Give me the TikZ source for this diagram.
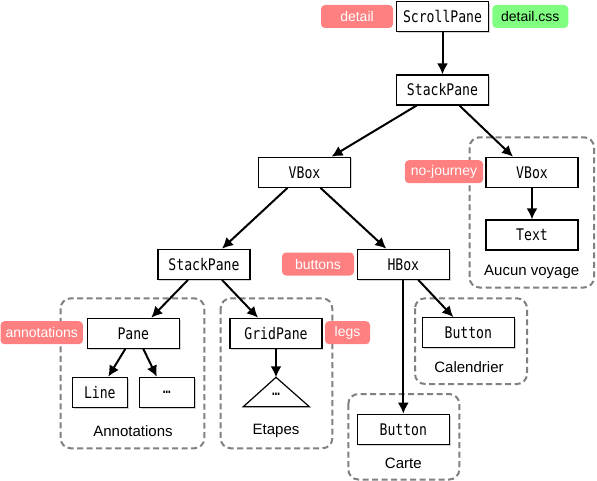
\documentclass[tikz,border=0pt]{standalone}
\usepackage{fontspec}
\setmainfont{Liberation Sans}
\setmonofont[FakeStretch=0.82]{DejaVu Sans Mono}
\usepackage{tikz}
\usetikzlibrary{arrows.meta}
\usetikzlibrary{shadows}
\definecolor{tagred}{HTML}{FF8080}
\definecolor{taggreen}{HTML}{80FF80}
\definecolor{groupgray}{HTML}{808080}
\tikzstyle{cls} = [draw, fill=white, line width=1.2pt, minimum width=92pt, minimum height=30pt, inner sep=0pt, font=\fontsize{16}{18}\selectfont\ttfamily, drop shadow={shadow xshift=1.2pt, shadow yshift=-1.2pt, opacity=0.35}]
\tikzstyle{small} = [cls, minimum width=55pt]
\tikzstyle{tag} = [fill=tagred, rounded corners=4pt, minimum width=72pt, minimum height=23pt, inner xsep=6pt, inner ysep=0pt, text=white, font=\fontsize{14}{16}\selectfont]
\tikzstyle{group} = [draw=groupgray, line width=2pt, dash pattern=on 6pt off 3.5pt, rounded corners=10pt]
\tikzstyle{grouplabel} = [font=\fontsize{15}{17}\selectfont]
\tikzstyle{edge} = [line width=2pt, -{Latex[length=11pt,width=11pt]}]

\begin{document}
\begin{tikzpicture}[x=1pt, y=-1pt]
				%\draw[help lines,step=50] (0,0) grid (597,481);
				\useasboundingbox (0,0) rectangle (597,481);
				\draw [group] (60.7,298.3) rectangle (204.3,448.3);
				\draw [group] (220.7,298.3) rectangle (332.3,448.3);
				\draw [group] (415,298.3) rectangle (527,384);
				\draw [group] (348.3,394) rectangle (459.3,479.5);
				\draw [group] (469.5,137.3) rectangle (594,287.5);

				\node [cls] (scroll) at (442.5, 16.7) {ScrollPane};
				\node [cls] (stack) at (442.5, 90) {StackPane};
				\node [cls] (vbox) at (304.5, 172.3) {VBox};
				\node [cls] (novbox) at (532, 172.3) {VBox};
				\node [cls] (text) at (532, 235) {Text};
				\node [cls] (stack2) at (204, 264.3) {StackPane};
				\node [cls] (hbox) at (403.3, 264.3) {HBox};
				\node [cls] (pane) at (133.3, 333.3) {Pane};
				\node [cls] (grid) at (276, 333.3) {GridPane};
				\node [cls] (calbtn) at (468.3, 332.7) {Button};
				\node [small] (line) at (99.8, 392.3) {Line};
				\node [small] (more) at (166.8, 392.3) {\dots};
				\node [cls] (cartebtn) at (403.3, 429.3) {Button};

				\coordinate (etop) at (276, 377.3);
				\draw [line width=1.2pt] (etop) -- (309.3, 406.7) -- (243.3, 406.7) -- cycle;
				\node [font=\fontsize{16}{18}\selectfont\ttfamily] (etc) at (276, 394) {\dots};

				\node [tag] (tdetail) at (357, 16.5) {detail};
				\node [tag, fill=taggreen, text=black, minimum width=76pt] (tcss) at (530.3, 16.5) {detail.css};
				\node [tag] (tnojourney) at (444, 171.7) {no-journey};
				\node [tag] (tbuttons) at (318, 264) {buttons};
				\node [tag, inner xsep=5pt] (tannot) at (41.7, 332.7) {annotations};
				\node [tag, minimum width=45pt] (tlegs) at (347.5, 332.7) {legs};

				\node [grouplabel] (lannot) at (133, 431) {Annotations};
				\node [grouplabel] (letapes) at (276, 431) {Etapes};
				\node [grouplabel] (lcal) at (469, 366.7) {Calendrier};
				\node [grouplabel] (lcarte) at (403.3, 463.3) {Carte};
				\node [grouplabel] (laucun) at (531.7, 271.5) {Aucun voyage};

				\draw [edge] (scroll) -- (stack);
				\draw [edge] ([xshift=-26pt]stack.south) -- ([xshift=27pt]vbox.north);
				\draw [edge] ([xshift=17pt]stack.south) -- ([xshift=-19pt]novbox.north);
				\draw [edge] (novbox) -- (text);
				\draw [edge] ([xshift=-17pt]vbox.south) -- ([xshift=18pt]stack2.north);
				\draw [edge] ([xshift=16pt]vbox.south) -- ([xshift=-17pt]hbox.north);
				\draw [edge] ([xshift=-16pt]stack2.south) -- ([xshift=18pt]pane.north);
				\draw [edge] ([xshift=18pt]stack2.south) -- ([xshift=-18pt]grid.north);
				\draw [edge] ([xshift=-8pt]pane.south) -- ([xshift=8.5pt]line.north);
				\draw [edge] ([xshift=10pt]pane.south) -- ([xshift=-10pt]more.north);
				\draw [edge] (grid.south) -- (etop);
				\draw [edge] (hbox.south) -- (cartebtn.north);
				\draw [edge] ([xshift=15pt]hbox.south) -- ([xshift=-15pt]calbtn.north);
			\end{tikzpicture}
\end{document}
